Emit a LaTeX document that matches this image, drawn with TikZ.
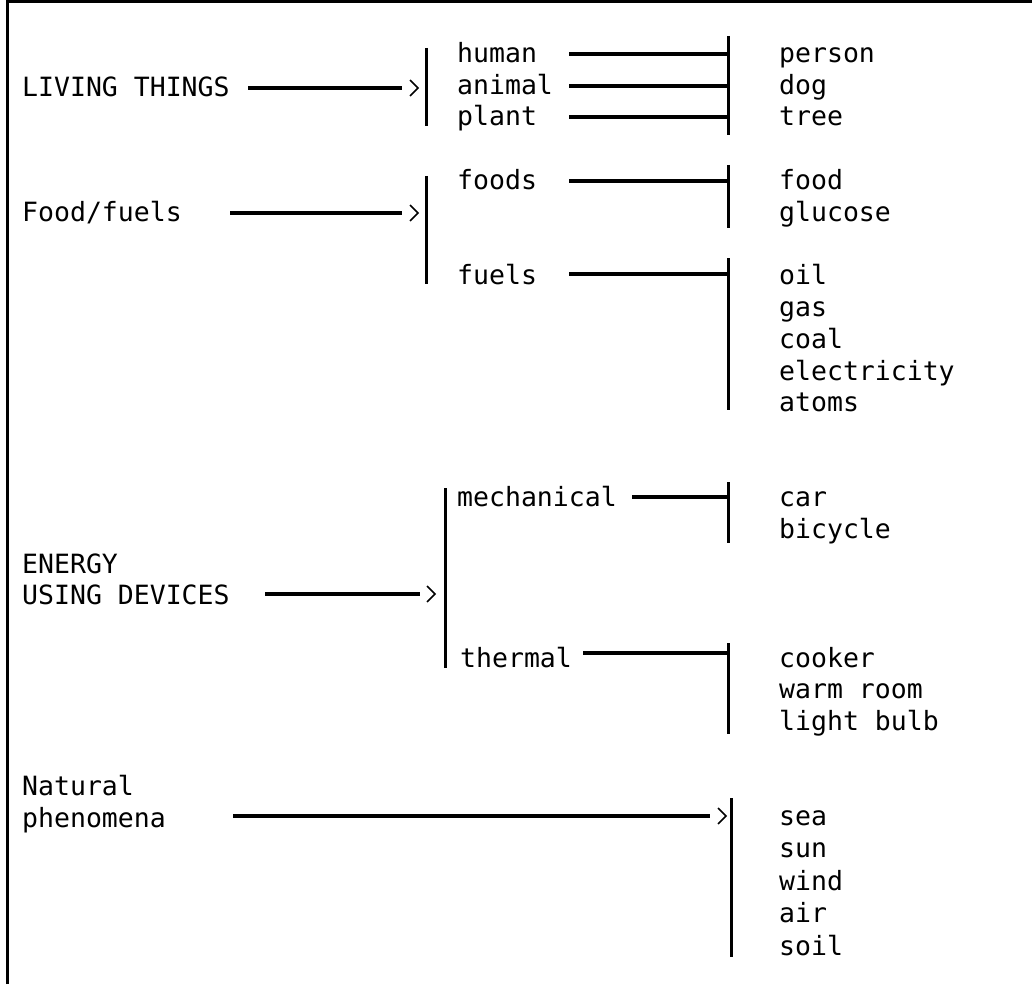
\documentclass[tikz,border=0pt]{standalone}
\usepackage{fontspec}
\setmonofont{DejaVu Sans Mono}
\begin{document}
\begin{tikzpicture}[x=1pt,y=-1pt,
  lbl/.style={anchor=base west, inner sep=0pt, font=\ttfamily\fontsize{26.5}{30}\selectfont},
  ln/.style={line width=3.2pt},
  barline/.style={line width=3pt},
  frameline/.style={line width=3pt},
  chev/.pic={\draw[line width=1.6pt, line join=miter] (-8,-8) -- (0,0) -- (-8,8);}]
\useasboundingbox (0,0) rectangle (1032,984);
% frame
\coordinate (fbl) at (7,984); \coordinate (ftl) at (7,1.5); \coordinate (ftr) at (1032,1.5);
\draw[frameline] (fbl) -- (ftl) -- (ftr);

% ---------- LIVING THINGS ----------
\node[lbl] (living) at (22,97) {LIVING THINGS};
\coordinate (livA) at (248,88); \coordinate (livB) at (402,88);
\draw[ln] (livA) -- (livB);
\pic at (418,88) {chev};
\coordinate (b1t) at (426,48); \coordinate (b1b) at (426,126);
\draw[barline] (b1t) -- (b1b);
\node[lbl] (human) at (457,63) {human};
\node[lbl] (animal) at (457,95) {animal};
\node[lbl] (plant) at (457,126) {plant};
\coordinate (hA) at (569,54); \coordinate (hB) at (728,54);
\coordinate (aA) at (569,86); \coordinate (aB) at (728,86);
\coordinate (pA) at (569,117); \coordinate (pB) at (728,117);
\draw[ln] (hA) -- (hB); \draw[ln] (aA) -- (aB); \draw[ln] (pA) -- (pB);
\coordinate (b2t) at (728,36); \coordinate (b2b) at (728,135);
\draw[barline] (b2t) -- (b2b);
\node[lbl] (person) at (779,63) {person};
\node[lbl] (dog) at (779,95) {dog};
\node[lbl] (tree) at (779,126) {tree};

% ---------- Food/fuels ----------
\node[lbl] (foodfuels) at (22,222) {Food/fuels};
\coordinate (ffA) at (230,213); \coordinate (ffB) at (402,213);
\draw[ln] (ffA) -- (ffB);
\pic at (418,213) {chev};
\coordinate (b3t) at (426,176); \coordinate (b3b) at (426,284);
\draw[barline] (b3t) -- (b3b);
\node[lbl] (foods) at (457,190) {foods};
\node[lbl] (fuels) at (457,284) {fuels};
\coordinate (fdA) at (569,181); \coordinate (fdB) at (728,181);
\draw[ln] (fdA) -- (fdB);
\coordinate (b4t) at (728,165); \coordinate (b4b) at (728,228);
\draw[barline] (b4t) -- (b4b);
\node[lbl] (food) at (779,190) {food};
\node[lbl] (glucose) at (779,222) {glucose};
\coordinate (fuA) at (569,274); \coordinate (fuB) at (728,274);
\draw[ln] (fuA) -- (fuB);
\coordinate (b5t) at (728,258); \coordinate (b5b) at (728,410);
\draw[barline] (b5t) -- (b5b);
\node[lbl] (oil) at (779,284) {oil};
\node[lbl] (gas) at (779,316) {gas};
\node[lbl] (coal) at (779,348) {coal};
\node[lbl] (electricity) at (779,380) {electricity};
\node[lbl] (atoms) at (779,411) {atoms};

% ---------- ENERGY USING DEVICES ----------
\node[lbl] (energy) at (22,573) {ENERGY};
\node[lbl] (using) at (22,604) {USING DEVICES};
\coordinate (euA) at (265,594); \coordinate (euB) at (420,594);
\draw[ln] (euA) -- (euB);
\pic at (435,594) {chev};
\coordinate (b6t) at (445,488); \coordinate (b6b) at (445,668);
\draw[barline] (b6t) -- (b6b);
\node[lbl] (mechanical) at (457,506) {mechanical};
\node[lbl] (thermal) at (460,667) {thermal};
\coordinate (mA) at (632,497); \coordinate (mB) at (728,497);
\draw[ln] (mA) -- (mB);
\coordinate (b7t) at (728,482); \coordinate (b7b) at (728,543);
\draw[barline] (b7t) -- (b7b);
\node[lbl] (car) at (779,506) {car};
\node[lbl] (bicycle) at (779,538) {bicycle};
\coordinate (tA) at (583,653); \coordinate (tB) at (728,653);
\draw[ln] (tA) -- (tB);
\coordinate (b8t) at (728,643); \coordinate (b8b) at (728,734);
\draw[barline] (b8t) -- (b8b);
\node[lbl] (cooker) at (779,667) {cooker};
\node[lbl] (warmroom) at (779,698) {warm room};
\node[lbl] (lightbulb) at (779,730) {light bulb};

% ---------- Natural phenomena ----------
\node[lbl] (natural) at (22,795) {Natural};
\node[lbl] (phenomena) at (22,827) {phenomena};
\coordinate (nA) at (233,816); \coordinate (nB) at (710,816);
\draw[ln] (nA) -- (nB);
\pic at (726,816) {chev};
\coordinate (b9t) at (731,798); \coordinate (b9b) at (731,957);
\draw[barline] (b9t) -- (b9b);
\node[lbl] (sea) at (779,825) {sea};
\node[lbl] (sun) at (779,857) {sun};
\node[lbl] (wind) at (779,890) {wind};
\node[lbl] (air) at (779,922) {air};
\node[lbl] (soil) at (779,955) {soil};
\end{tikzpicture}
\end{document}
